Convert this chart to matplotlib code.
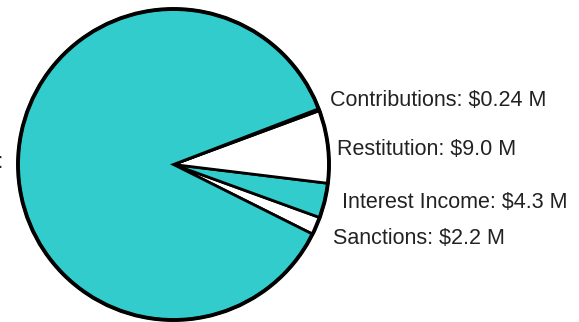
import matplotlib
matplotlib.use("Agg")
import matplotlib.pyplot as plt
from matplotlib.patches import Circle

# slice values in $M, counterclockwise from the lower right
names = ["Sanctions", "Interest Income", "Restitution", "Contributions", "Fines"]
values = [2.2, 4.3, 9.0, 0.24, 103.3]
labels = ["Sanctions: $2.2 M", "Interest Income: $4.3 M", "Restitution: $9.0 M",
          "Contributions: $0.24 M", "Fines:"]
colors = ["white", "#33CCCC", "white", "white", "#33CCCC"]

plt.rcParams["font.family"] = ["Liberation Sans", "DejaVu Sans"]

fig = plt.figure(figsize=(5.79, 3.22), dpi=100)
ax = fig.add_axes([0, 0, 1, 1])

cx, cy, r = 173.5, 157.5, 155.5
ax.pie(values, colors=colors, startangle=-26.6, counterclock=True,
       center=(cx, cy), radius=r, frame=True,
       wedgeprops=dict(edgecolor="black", linewidth=2.0))
ax.add_patch(Circle((cx, cy), r, fill=False, edgecolor="black", linewidth=2.8, zorder=5))
ax.set_xlim(0, 579)
ax.set_ylim(0, 322)
ax.set_aspect("equal")
ax.axis("off")

# label placement in pixels (left edge, vertical centre, measured from top)
label_pos = [(333, 238), (342, 203), (337, 149), (330, 100)]
for text, (x, y) in zip(labels[:4], label_pos):
    ax.text(x, 322 - y, text, fontsize=15.5, ha="left", va="center", color="#222222")
# label of the large slice sits mostly off the canvas, only its colon shows
ax.text(3.5, 322 - 162, labels[4], fontsize=15.5, ha="right", va="center", color="#222222")

fig.savefig("out.png", dpi=100)
